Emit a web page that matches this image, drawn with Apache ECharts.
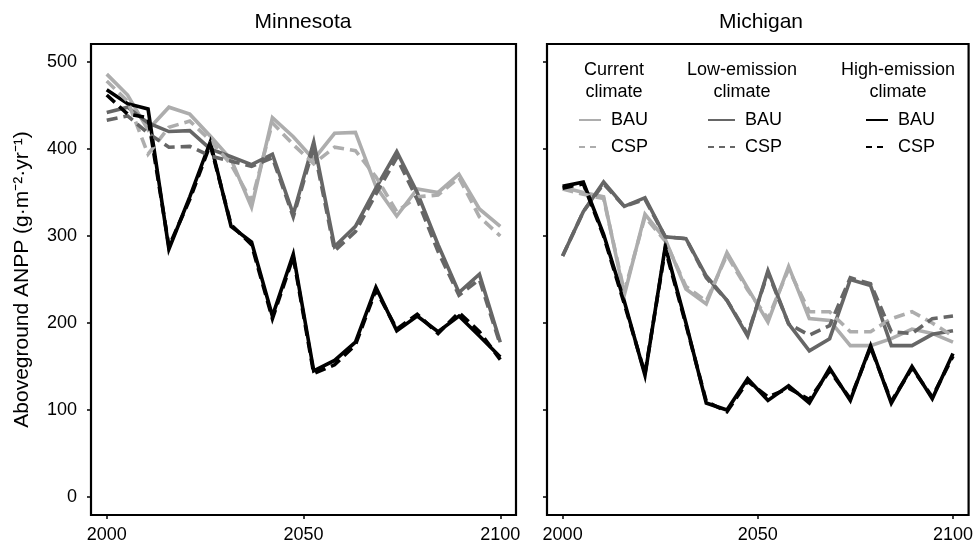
<!DOCTYPE html>
<html>
<head>
<meta charset="utf-8">
<script src="https://cdn.jsdelivr.net/npm/echarts@6/dist/echarts.min.js"></script>
<style>html,body{margin:0;padding:0;background:#fff}#c{width:976px;height:544px}</style>
</head>
<body>
<div id="c"></div>
<script>
const years = [2000, 2005.3, 2010.5, 2015.8, 2021.1, 2026.3, 2031.6, 2036.8, 2042.1, 2047.4, 2052.6, 2057.9, 2063.2, 2068.4, 2073.7, 2078.9, 2084.2, 2089.5, 2094.7, 2100];
const yTicks = [0, 100, 200, 300, 400, 500];
const xTicks = [2000, 2050, 2100];
const panels = ['Minnesota', 'Michigan'];

const mnCurBAU  = [486, 462, 422, 448, 440, 415, 388, 333, 436, 414, 388, 418, 419, 357, 323, 354, 350, 371, 331, 311];
const mnCurCSP  = [478, 455, 394, 425, 432, 410, 382, 340, 430, 405, 383, 402, 398, 368, 328, 345, 347, 367, 322, 300];
const mnLowBAU  = [442, 448, 430, 420, 421, 400, 391, 382, 394, 325, 408, 288, 311, 355, 397, 350, 290, 235, 256, 178];
const mnLowCSP  = [433, 438, 418, 402, 403, 392, 386, 380, 390, 322, 402, 283, 305, 348, 390, 342, 282, 232, 250, 175];
const mnHighBAU = [468, 452, 446, 285, 345, 408, 311, 293, 208, 279, 145, 157, 178, 241, 191, 208, 190, 208, 185, 161];
const mnHighCSP = [462, 440, 436, 288, 342, 405, 313, 290, 205, 276, 142, 152, 175, 238, 193, 210, 188, 212, 190, 158];

const miCurBAU  = [356, 350, 345, 232, 325, 296, 239, 222, 281, 240, 201, 265, 205, 203, 174, 174, 182, 193, 188, 178];
const miCurCSP  = [354, 348, 343, 236, 322, 294, 242, 225, 278, 238, 205, 262, 213, 213, 190, 190, 205, 213, 200, 185];
const miLowBAU  = [277, 328, 362, 334, 344, 299, 297, 254, 226, 185, 260, 199, 168, 182, 250, 243, 174, 174, 187, 191];
const miLowCSP  = [277, 328, 360, 334, 342, 299, 297, 252, 226, 187, 258, 199, 186, 197, 252, 245, 190, 188, 205, 208];
const miHighBAU = [357, 362, 302, 225, 140, 288, 200, 108, 100, 136, 111, 128, 108, 148, 111, 174, 108, 150, 113, 165];
const miHighCSP = [355, 360, 300, 222, 142, 285, 198, 110,  98, 133, 115, 125, 112, 145, 113, 172, 110, 148, 115, 162];

const FONT = '"Liberation Sans", Arial, Helvetica, sans-serif';
const colCur = '#adadad', colLow = '#666666', colHigh = '#000000';
const dash = [11, 6];

function pts(arr) { return years.map((y, i) => [y, arr[i]]); }

const specs = [
  ['Current BAU', colCur, 'solid', mnCurBAU, miCurBAU],
  ['Low BAU', colLow, 'solid', mnLowBAU, miLowBAU],
  ['High BAU', colHigh, 'solid', mnHighBAU, miHighBAU],
  ['Current CSP', colCur, dash, mnCurCSP, miCurCSP],
  ['Low CSP', colLow, dash, mnLowCSP, miLowCSP],
  ['High CSP', colHigh, dash, mnHighCSP, miHighCSP]
];
const series = [];
[0, 1].forEach(p => {
  specs.forEach(s => {
    series.push({
      name: s[0], type: 'line', xAxisIndex: p, yAxisIndex: p,
      data: pts(p === 0 ? s[3] : s[4]),
      symbol: 'none', showSymbol: false, silent: true, animation: false,
      lineStyle: { color: s[1], width: 3.6, type: s[2], cap: 'butt', join: 'miter' },
      itemStyle: { color: s[1] },
      z: 2
    });
  });
});

function xAxis(idx) {
  return {
    type: 'value', gridIndex: idx, min: 1996, max: 2104,
    axisLine: { show: false, onZero: false }, splitLine: { show: false },
    axisTick: { show: true, customValues: xTicks, length: 4, inside: false, lineStyle: { color: '#000', width: 1.5 } },
    axisLabel: { customValues: xTicks, color: '#000', fontSize: 18, fontFamily: FONT, margin: 11, formatter: v => String(v) }
  };
}
function yAxis(idx) {
  return {
    type: 'value', gridIndex: idx, min: -20.6, max: 520.6,
    axisLine: { show: false, onZero: false }, splitLine: { show: false },
    axisTick: { show: true, customValues: yTicks, length: 4, lineStyle: { color: '#000', width: 1.5 } },
    axisLabel: { show: idx === 0, customValues: yTicks, color: '#000', fontSize: 18, fontFamily: FONT, margin: 14, formatter: v => String(v) },
    name: idx === 0 ? 'Aboveground ANPP (g\u00b7m\u207b\u00b2\u00b7yr\u207b\u00b9)' : '',
    nameLocation: 'middle', nameGap: 58, nameRotate: 90,
    nameTextStyle: { color: '#000', fontSize: 21, fontFamily: FONT }
  };
}

function legendFor(names, left, w) {
  return {
    orient: 'vertical', left: left, top: 111, itemWidth: w, itemHeight: 18, itemGap: 9,
    selectedMode: false, padding: 0,
    itemStyle: { opacity: 0 },
    data: names.map(n => ({ name: n, itemStyle: { opacity: 0 }, lineStyle: n.endsWith('CSP') ? { type: [6, 5], width: 2 } : { type: 'solid', width: 2 } })),
    formatter: n => n.endsWith('CSP') ? 'CSP' : 'BAU',
    textStyle: { color: '#000', fontSize: 18, fontFamily: FONT, padding: [0, 0, 0, 5] }
  };
}

const txt = (t, x, y, size) => ({
  type: 'text', x: x, y: y, silent: true,
  style: { text: t, fill: '#000', font: size + 'px ' + FONT, align: 'center', verticalAlign: 'middle', lineHeight: 22 }
});

const chart = echarts.init(document.getElementById('c'), null, { renderer: 'canvas' });
chart.setOption({
  backgroundColor: '#fff',
  animation: false,
  grid: [
    { left: 91, right: 460, top: 44, bottom: 27, show: true, borderColor: '#000', borderWidth: 2.2, backgroundColor: 'transparent' },
    { left: 547, right: 4, top: 44, bottom: 27, show: true, borderColor: '#000', borderWidth: 2.2, backgroundColor: 'transparent' }
  ],
  xAxis: [xAxis(0), xAxis(1)],
  yAxis: [yAxis(0), yAxis(1)],
  legend: [
    legendFor(['Current BAU', 'Current CSP'], 578, 22),
    legendFor(['Low BAU', 'Low CSP'], 707, 27),
    legendFor(['High BAU', 'High CSP'], 865, 22)
  ],
  graphic: [
    txt(panels[0], 303, 22, 21),
    txt(panels[1], 761, 22, 21),
    txt('Current\nclimate', 614, 81, 18),
    txt('Low-emission\nclimate', 742, 81, 18),
    txt('High-emission\nclimate', 898, 81, 18)
  ],
  series: series
});
</script>
</body>
</html>
